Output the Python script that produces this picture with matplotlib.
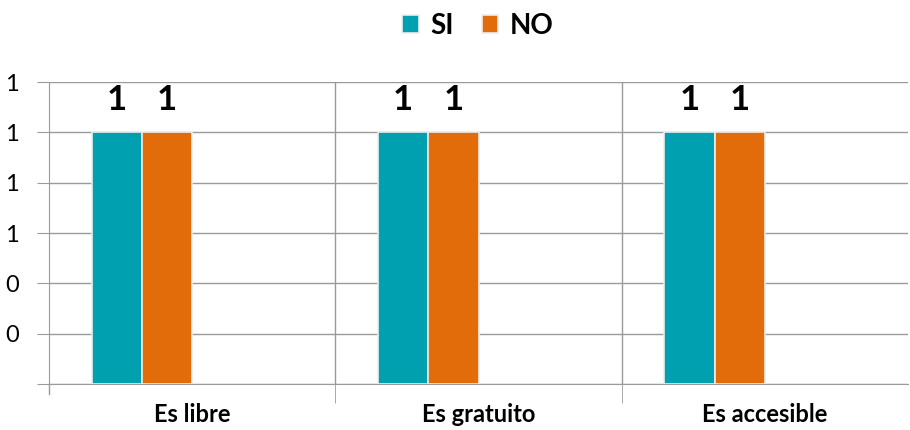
import numpy as np
import matplotlib.pyplot as plt

categories = ['Es libre', 'Es gratuito', 'Es accesible']
si = [1, 1, 1]
no = [1, 1, 1]
ytick_vals = [0, 0.2, 0.4, 0.6, 0.8, 1.0, 1.2]
ytick_labels = ['', '0', '0', '1', '1', '1', '1']

plt.rcParams['font.family'] = ['Lato', 'DejaVu Sans']

fig = plt.figure(figsize=(9.1, 4.3), dpi=100)
ax = fig.add_axes([0.054, 0.107, 0.944, 0.702])

teal = '#00A0B0'
orange = '#E36C0A'
grid = '#9A9A9A'

x = np.arange(len(categories))
w = 0.176  # 4 slots per category, only two used
b1 = ax.bar(x - 1.5 * w, si, w, color=teal, edgecolor='#EDEDED', linewidth=1.2, label='SI', zorder=3)
b2 = ax.bar(x - 0.5 * w, no, w, color=orange, edgecolor='#EDEDED', linewidth=1.2, label='NO', zorder=3)

for i in range(len(categories)):
    ax.text(x[i] - 1.5 * w, 1.128, str(si[i]), ha='center', va='center',
            fontsize=25, fontweight='bold')
    ax.text(x[i] - 0.5 * w, 1.128, str(no[i]), ha='center', va='center',
            fontsize=25, fontweight='bold')

ax.set_xlim(-0.5, 2.5)
ax.set_ylim(0, 1.2)
ax.set_yticks(ytick_vals)
ax.set_yticklabels(ytick_labels)
ax.set_xticks(x)
ax.set_xticklabels(categories, fontweight='bold')
ax.tick_params(axis='x', length=0, pad=14, labelsize=17)
ax.tick_params(axis='y', length=9, color=grid, pad=13, labelsize=17)

# category boundaries: vertical gridlines with ticks below
ax.set_xticks([0.5, 1.5], minor=True)
ax.tick_params(axis='x', which='minor', length=14, color=grid, direction='out')
for xb in [0.5, 1.5]:
    ax.axvline(xb, color=grid, linewidth=1, zorder=1)
ax.yaxis.grid(True, color=grid, linewidth=1, zorder=1)

for s in ['top', 'right']:
    ax.spines[s].set_visible(False)
ax.spines['left'].set_color(grid)
ax.spines['bottom'].set_color(grid)
ax.plot([-0.5, -0.5], [-0.04, 0], color=grid, linewidth=1, clip_on=False)

fig.legend(handles=[b1, b2], labels=['SI', 'NO'], loc='center', bbox_to_anchor=(0.525, 0.94),
           ncol=2, frameon=False, prop={'weight': 'bold', 'size': 20},
           handlelength=0.6, handleheight=0.6, handletextpad=0.4, columnspacing=1.0)

fig.savefig('out.png', dpi=100)
